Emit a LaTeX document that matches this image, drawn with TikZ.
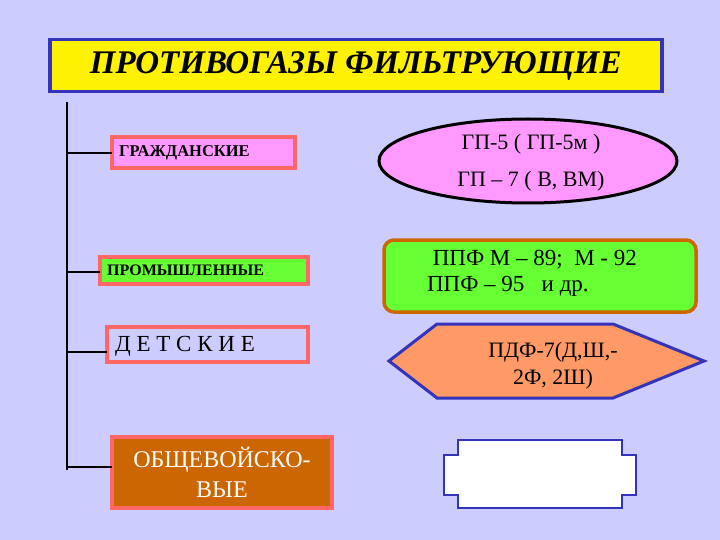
\documentclass[tikz,border=0pt]{standalone}
\usepackage{fontspec}
\setmainfont{Liberation Serif}
\begin{document}
\begin{tikzpicture}[x=1pt,y=-1pt,
  lbox/.style={draw=red!60!white,line width=3.5pt,inner sep=0pt},
  lbl/.style={anchor=west,inner sep=0pt},
  tick/.style={line width=2pt}]
\definecolor{bg}{HTML}{CCCCFF}
\definecolor{brn}{HTML}{CC6600}
\definecolor{pnk}{HTML}{FF99FF}
\definecolor{grn}{HTML}{66FF33}
\definecolor{org}{HTML}{FF9966}
\definecolor{blu}{HTML}{3333BB}
\fill[bg] (0,0) rectangle (720,540);
\useasboundingbox (0,0) rectangle (720,540);
\node[draw=blu,line width=3.5pt,fill=yellow,minimum width=612pt,minimum height=52pt,anchor=north west,font=\bfseries\itshape\fontsize{33}{36}\selectfont] (t) at (48,38) {ПРОТИВОГАЗЫ ФИЛЬТРУЮЩИЕ};
\coordinate (top) at (67,102);
\coordinate (bot) at (67,470);
\draw[tick] (top) -- (bot);
\draw[lbox,fill=pnk] (112,137) rectangle (295,168);
\node[lbl,font=\bfseries\fontsize{16.5}{18}\selectfont] (g) at (119,153) {ГРАЖДАНСКИЕ};
\draw[lbox,fill=grn] (100,257) rectangle (308,284);
\node[lbl,font=\bfseries\fontsize{16}{18}\selectfont] (p) at (107,270) {ПРОМЫШЛЕННЫЕ};
\draw[lbox,fill=bg] (107,327) rectangle (308,362);
\node[lbl,font=\fontsize{23}{25}\selectfont] (d) at (115,346) {Д Е Т С К И Е};
\draw[lbox,fill=brn] (112,437) rectangle (332,508);
\node[align=center,text=white,font=\fontsize{24}{30}\selectfont] (o) at (222,472) {ОБЩЕВОЙСКО-\\ВЫЕ};
\coordinate (c1) at (67,153); \coordinate (c2) at (67,272);
\coordinate (c3) at (67,352); \coordinate (c4) at (67,467);
\draw[tick] (c1) -- (112,153);
\draw[tick] (c2) -- (100,272);
\draw[tick] (c3) -- (107,352);
\draw[tick] (c4) -- (112,467);
\draw[line width=3pt,fill=pnk] (528,161) ellipse [x radius=149, y radius=42];
\node[align=center,font=\fontsize{22}{37}\selectfont] (e) at (531,163) {ГП-5 ( ГП-5м )\\ГП – 7 ( В, ВМ)};
\draw[draw=brn,line width=3.5pt,fill=grn,rounded corners=10pt] (384,240) rectangle (696,312);
\node[align=left,font=\fontsize{23}{26}\selectfont] (pp) at (532,273) {\ ППФ М – 89;\ \ М - 92\\ППФ – 95\ \ \ и др.};
\draw[draw=blu,line width=3pt,fill=org] (389,361) -- (437,324) -- (613,324) -- (704,361) -- (613,398) -- (437,398) -- cycle;
\node[align=center,font=\fontsize{22}{27}\selectfont] (h) at (553,366) {ПДФ-7(Д,Ш,-\\2Ф, 2Ш)};
\draw[draw=blu,line width=2.5pt,fill=white] (458,440) -- (622,440) -- (622,455) -- (636,455) -- (636,495) -- (622,495) -- (622,508) -- (458,508) -- (458,495) -- (444,495) -- (444,455) -- (458,455) -- cycle;
\end{tikzpicture}
\end{document}
